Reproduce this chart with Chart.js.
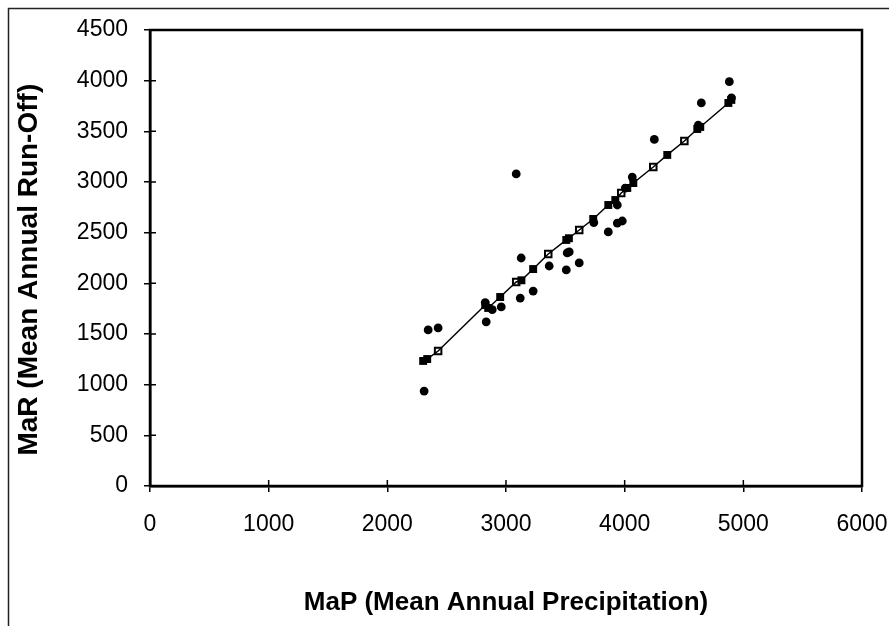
<!DOCTYPE html>
<html>
<head>
<meta charset="utf-8">
<script src="https://cdn.jsdelivr.net/npm/chart.js@4/dist/chart.umd.min.js"></script>
<style>
  html, body { margin: 0; padding: 0; background: #fff; }
  #wrap { width: 889px; height: 626px; position: relative; }
</style>
</head>
<body>
<div id="wrap"><canvas id="chart" width="889" height="626"></canvas></div>
<script>
// Observed values (filled circles): MaP, MaR
const obsMaP = [2310, 2344, 2428, 2833, 2825, 2884, 2960, 3120, 3128, 3086, 3229, 3364, 3516, 3533, 3508, 3617, 3740, 3862, 3938, 3980, 3938, 4005, 4064, 4250, 4620, 4646, 4882, 4900];
const obsMaR = [937, 1540, 1560, 1620, 1810, 1740, 1767, 1855, 2250, 3080, 1924, 2171, 2300, 2310, 2132, 2201, 2600, 2507, 2595, 2615, 2773, 2940, 3049, 3420, 3560, 3780, 3990, 3830];

// Predicted values on the regression line (filled squares)
const predMaP = [2302, 2336, 2825, 2850, 2951, 3130, 3229, 3508, 3530, 3735, 3862, 3921, 4022, 4073, 4359, 4612, 4637, 4874, 4899];
const predMaR = [1234, 1253, 1786, 1757, 1865, 2030, 2141, 2428, 2445, 2635, 2773, 2822, 2941, 2990, 3267, 3523, 3543, 3780, 3810];

// Predicted values (open squares)
const openMaP = [2428, 3086, 3356, 3617, 3971, 4241, 4503];
const openMaR = [1332, 2013, 2290, 2526, 2891, 3148, 3405];

const xTicks = [0, 1000, 2000, 3000, 4000, 5000, 6000];
const yTicks = [0, 500, 1000, 1500, 2000, 2500, 3000, 3500, 4000, 4500];

function toPoints(xs, ys) {
  return xs.map((x, i) => ({ x: x, y: ys[i] }));
}

const linePoints = toPoints(predMaP.concat(openMaP), predMaR.concat(openMaR))
  .sort((a, b) => a.x - b.x);

// frame, inner tick marks and the outer page border
const framePlugin = {
  id: 'frame',
  beforeDraw(chart) {
    const ctx = chart.ctx;
    ctx.save();
    ctx.strokeStyle = '#222';
    ctx.lineWidth = 1.5;
    ctx.beginPath();
    ctx.moveTo(8.5, 626);
    ctx.lineTo(8.5, 8.5);
    ctx.lineTo(889, 8.5);
    ctx.stroke();
    ctx.restore();
  },
  afterDraw(chart) {
    const ctx = chart.ctx;
    const a = chart.chartArea;
    const xs = chart.scales.x, ys = chart.scales.y;
    ctx.save();
    ctx.strokeStyle = '#000';
    ctx.lineWidth = 2.5;
    ctx.strokeRect(a.left, a.top, a.right - a.left, a.bottom - a.top);
    ctx.lineWidth = 1.5;
    ctx.beginPath();
    xTicks.forEach(v => {
      const px = xs.getPixelForValue(v);
      ctx.moveTo(px, a.bottom);
      ctx.lineTo(px, a.bottom - 6);
    });
    yTicks.forEach(v => {
      const py = ys.getPixelForValue(v);
      ctx.moveTo(a.left, py);
      ctx.lineTo(a.left + 6, py);
    });
    ctx.stroke();
    ctx.restore();
  }
};

const font = 'Liberation Sans, Arial, sans-serif';

new Chart(document.getElementById('chart'), {
  type: 'scatter',
  data: {
    datasets: [
      {
        label: 'Observed',
        data: toPoints(obsMaP, obsMaR),
        pointStyle: 'circle',
        pointRadius: 4.4,
        backgroundColor: '#000',
        borderColor: '#000',
        borderWidth: 0
      },
      {
        label: 'Regression',
        data: linePoints,
        showLine: true,
        pointRadius: 0,
        borderColor: '#000',
        borderWidth: 1.5
      },
      {
        label: 'Predicted',
        data: toPoints(predMaP, predMaR),
        pointStyle: 'rect',
        pointRadius: 5.6,
        backgroundColor: '#000',
        borderColor: '#000',
        borderWidth: 0
      },
      {
        label: 'Predicted (open)',
        data: toPoints(openMaP, openMaR),
        pointStyle: 'rect',
        pointRadius: 4.6,
        backgroundColor: '#fff',
        borderColor: '#000',
        borderWidth: 2
      }
    ]
  },
  options: {
    responsive: false,
    animation: false,
    layout: { padding: { top: 30, right: 27, left: 0, bottom: 0 } },
    plugins: {
      legend: { display: false },
      tooltip: { enabled: false }
    },
    scales: {
      x: {
        type: 'linear',
        min: 0,
        max: 6000,
        afterBuildTicks: s => { s.ticks = xTicks.map(v => ({ value: v })); },
        afterFit: s => { s.height = 140; s.paddingLeft = 0; s.paddingRight = 0; },
        grid: { drawOnChartArea: false, tickLength: 6, color: '#000', lineWidth: 1.5 },
        border: { display: true, color: '#000', width: 2.5 },
        ticks: {
          color: '#000',
          padding: 19,
          maxRotation: 0,
          callback: v => String(v),
          font: { family: font, size: 23 }
        },
        title: {
          display: true,
          text: 'MaP (Mean Annual Precipitation)',
          color: '#000',
          padding: { top: 0, bottom: 8 },
          font: { family: font, size: 26, weight: 'bold' }
        }
      },
      y: {
        type: 'linear',
        min: 0,
        max: 4500,
        afterBuildTicks: s => { s.ticks = yTicks.map(v => ({ value: v })); },
        afterFit: s => { s.width = 150; s.paddingTop = 0; s.paddingBottom = 0; },
        grid: { drawOnChartArea: false, tickLength: 6, color: '#000', lineWidth: 1.5 },
        border: { display: true, color: '#000', width: 2.5 },
        ticks: {
          color: '#000',
          padding: 16,
          callback: v => String(v),
          font: { family: font, size: 23 }
        },
        title: {
          display: true,
          // trailing spaces nudge the centred label down a little, as in the original
          text: 'MaR (Mean Annual Run-Off)   ',
          color: '#000',
          padding: { top: 12, bottom: 0 },
          font: { family: font, size: 28, weight: 'bold' }
        }
      }
    }
  },
  plugins: [framePlugin]
});
</script>
</body>
</html>
